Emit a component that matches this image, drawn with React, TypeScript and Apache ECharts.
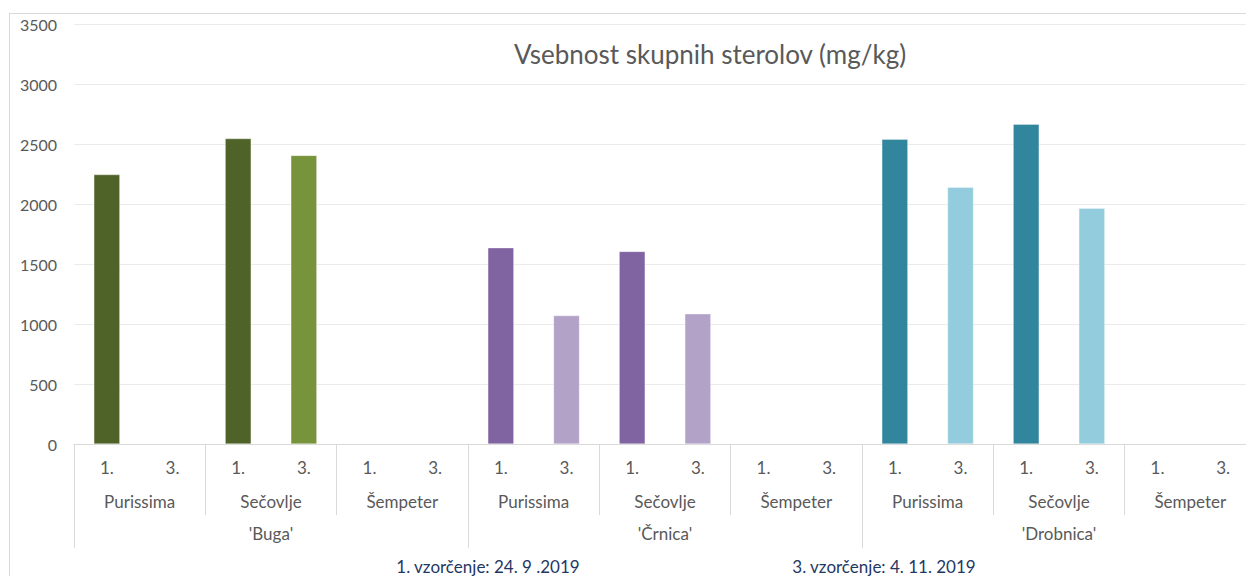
import React, { useEffect, useRef } from "react";
import * as echarts from "echarts";

const sampleLabels = ["1.", "3."];
const locations = ["Purissima", "Sečovlje", "Šempeter"];
const cultivars = ["'Buga'", "'Črnica'", "'Drobnica'"];

// values per cultivar, order: Purissima 1., 3., Sečovlje 1., 3., Šempeter 1., 3.
const bugaValues = [2245, null, 2545, 2405, null, null];
const crnicaValues = [1635, 1070, 1605, 1085, null, null];
const drobnicaValues = [2540, 2140, 2665, 1965, null, null];

const darkColors = ["#4F6228", "#8064A2", "#31859C"];
const lightColors = ["#77933C", "#B3A2C7", "#93CDDD"];

const yTicks = [0, 500, 1000, 1500, 2000, 2500, 3000, 3500];

const titleText = "Vsebnost skupnih sterolov (mg/kg)";
const note1 = "1. vzorčenje: 24. 9 .2019";
const note3 = "3. vzorčenje: 4. 11. 2019";

const FONT = "Lato, 'Open Sans', sans-serif";
const GRAY = "#595959";

export default function App() {
  const ref = useRef<HTMLDivElement>(null);
  useEffect(() => {
    if (!ref.current) return;
    const chart = echarts.init(ref.current, null, { renderer: "svg" });
    const allValues = [bugaValues, crnicaValues, drobnicaValues];
    const cats: string[] = [];
    const locCats: string[] = [];
    const data: any[] = [];
    allValues.forEach((vals, ci) => {
      locations.forEach((loc, li) => {
        locCats.push(loc);
        sampleLabels.forEach((s, si) => {
          cats.push(s);
          const v = vals[li * 2 + si];
          data.push({
            value: v,
            itemStyle: { color: si === 0 ? darkColors[ci] : lightColors[ci] },
          });
        });
      });
    });
    chart.setOption({
      animation: false,
      textStyle: { fontFamily: FONT },
      title: {
        text: titleText,
        left: 705,
        top: 36,
        textAlign: "center",
        textStyle: { fontFamily: FONT, fontSize: 26, fontWeight: "normal", color: GRAY },
      },
      grid: { left: 74, top: 24, bottom: 132, right: 0, containLabel: false },
      yAxis: {
        type: "value",
        min: 0,
        max: yTicks[yTicks.length - 1],
        interval: 500,
        axisLine: { show: false },
        axisTick: { show: false },
        axisLabel: {
          fontSize: 16,
          color: GRAY,
          margin: 17,
          fontFamily: FONT,
          formatter: (v: number) => String(v),
        },
        splitLine: { lineStyle: { color: "#EBEBEB", width: 1 } },
      },
      xAxis: [
        {
          type: "category",
          data: cats,
          position: "bottom",
          axisLine: { lineStyle: { color: "#D9D9D9", width: 1 } },
          axisTick: { show: false },
          axisLabel: { interval: 0, fontSize: 17, color: GRAY, margin: 15, fontFamily: FONT },
        },
        {
          type: "category",
          data: locCats,
          position: "bottom",
          axisLine: { show: false },
          axisTick: { show: true, length: 71, interval: 0, lineStyle: { color: "#D9D9D9" } },
          axisLabel: { interval: 0, fontSize: 17, color: GRAY, margin: 49, fontFamily: FONT },
        },
        {
          type: "category",
          data: cultivars,
          position: "bottom",
          axisLine: { show: false },
          axisTick: { show: true, length: 104, interval: 0, lineStyle: { color: "#D9D9D9" } },
          axisLabel: { interval: 0, fontSize: 17, color: GRAY, margin: 81, fontFamily: FONT },
        },
      ],
      series: [
        {
          type: "bar",
          xAxisIndex: 0,
          data,
          barWidth: 26,
          itemStyle: { borderColor: "rgba(255,255,255,0.6)", borderWidth: 0.5 },
        },
      ],
      graphic: [
        { type: "line", shape: { x1: 9, y1: 13.5, x2: 1256, y2: 13.5 }, style: { stroke: "#D9D9D9", lineWidth: 1 } },
        { type: "line", shape: { x1: 9.5, y1: 13, x2: 9.5, y2: 576 }, style: { stroke: "#D9D9D9", lineWidth: 1 } },
        {
          type: "text",
          x: 488,
          y: 566,
          style: { text: note1, fill: "#1F3864", font: `17px ${FONT}`, textAlign: "center", textVerticalAlign: "middle" },
        },
        {
          type: "text",
          x: 884,
          y: 566,
          style: { text: note3, fill: "#1F3864", font: `17px ${FONT}`, textAlign: "center", textVerticalAlign: "middle" },
        },
      ],
    });
    return () => chart.dispose();
  }, []);
  return (
    <div
      style={{ position: "fixed", left: 0, top: 0, width: 1246, height: 576, overflow: "hidden", background: "#fff" }}
    >
      <div ref={ref} style={{ width: 1256, height: 576 }} />
    </div>
  );
}
